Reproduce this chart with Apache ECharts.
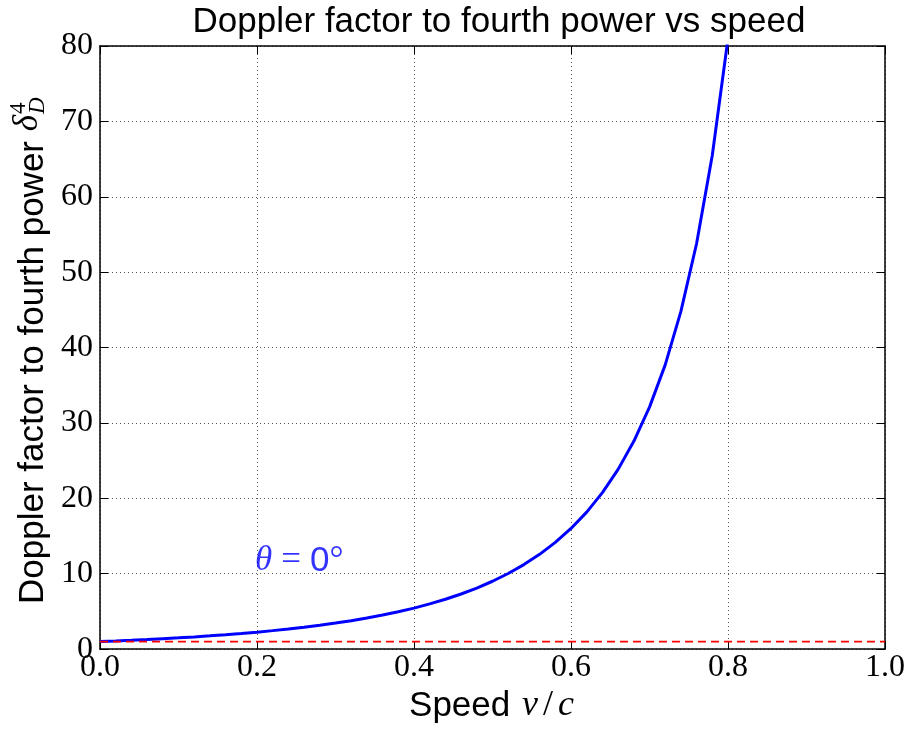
<!DOCTYPE html>
<html>
<head>
<meta charset="utf-8">
<script src="https://cdn.jsdelivr.net/npm/echarts@6/dist/echarts.min.js"></script>
<style>
  html, body { margin: 0; padding: 0; background: #fff; }
  #chart { width: 908px; height: 729px; }
</style>
</head>
<body>
<div id="chart"></div>
<script>
// Speed as a fraction of c
const speed = [0.00, 0.02, 0.04, 0.06, 0.08, 0.10, 0.12, 0.14, 0.16, 0.18, 0.20,
               0.22, 0.24, 0.26, 0.28, 0.30, 0.32, 0.34, 0.36, 0.38, 0.40,
               0.42, 0.44, 0.46, 0.48, 0.50, 0.52, 0.54, 0.56, 0.58, 0.60,
               0.62, 0.64, 0.66, 0.68, 0.70, 0.72, 0.74, 0.76, 0.78, 0.80];
// Doppler factor to the fourth power at theta = 0
const dopplerFourth = [1.00, 1.08, 1.17, 1.27, 1.38, 1.49, 1.62, 1.76, 1.91, 2.07, 2.25,
                       2.45, 2.66, 2.90, 3.16, 3.45, 3.77, 4.12, 4.52, 4.95, 5.44,
                       6.00, 6.61, 7.31, 8.10, 9.00, 10.03, 11.21, 12.57, 14.15, 16.00,
                       18.17, 20.75, 23.84, 27.56, 32.1, 37.7, 44.8, 53.8, 65.5, 81.0];
// Reference level (no boost)
const baselineX = [0.0, 1.0];
const baselineY = [1.0, 1.0];
// Axis ranges and tick steps
const xRange = [0.0, 1.0], xStep = 0.2;
const yRange = [0, 80], yStep = 10;
// Annotation anchor
const annotation = { x: 0.2, y: 10 };

const SANS = '"Liberation Sans", Helvetica, Arial, sans-serif';
const SERIF = '"Liberation Serif", "DejaVu Serif", serif';
const SANS_SIZE = 35;
const TICK_SIZE = 32;

const grid = { left: 100, right: 20, top: 46, bottom: 73 };

const ctx = document.createElement('canvas').getContext('2d');
function textWidth(str, font) { ctx.font = font; return ctx.measureText(str).width; }

const chart = echarts.init(document.getElementById('chart'), null, { renderer: 'canvas' });

const gridLine = { show: true, lineStyle: { color: '#555', width: 1, type: [1, 3] } };
const frameLine = { show: true, onZero: false, lineStyle: { color: '#000', width: 1.5 } };
const innerTick = { show: true, inside: true, length: 8, lineStyle: { color: '#000', width: 1 } };

function xAxisCfg(pos, main) {
  return {
    type: 'value', position: pos, min: xRange[0], max: xRange[1], interval: xStep,
    axisLine: frameLine, axisTick: innerTick,
    splitLine: main ? gridLine : { show: false },
    axisLabel: main ? {
      show: true, margin: 2, color: '#000', fontFamily: SERIF, fontSize: TICK_SIZE,
      formatter: v => v.toFixed(1)
    } : { show: false },
    name: main ? '{a|Speed }{b|v}{s|/}{b|c}' : '',
    nameLocation: 'middle', nameGap: 38,
    nameTextStyle: {
      rich: {
        a: { fontFamily: SANS, fontSize: SANS_SIZE, color: '#000' },
        b: { fontFamily: SERIF, fontStyle: 'italic', fontSize: 36, color: '#000', padding: [0, 2, 0, 2] },
        s: { fontFamily: SERIF, fontSize: 36, color: '#000', padding: [0, 3, 0, 3] }
      }
    }
  };
}
function yAxisCfg(pos, main) {
  return {
    type: 'value', position: pos, min: yRange[0], max: yRange[1], interval: yStep,
    axisLine: frameLine, axisTick: innerTick,
    splitLine: main ? gridLine : { show: false },
    axisLabel: main ? {
      show: true, margin: 7, color: '#000', fontFamily: SERIF, fontSize: TICK_SIZE
    } : { show: false }
  };
}

// Rotated y-axis title with the stacked super/subscript
const yTitleMain = 'Doppler factor to fourth power ';
const mainFont = SANS_SIZE + 'px ' + SANS;
const deltaFont = 'italic ' + SANS_SIZE + 'px ' + SERIF;
const scriptFont = 'italic 23px ' + SERIF;
const wMain = textWidth(yTitleMain, mainFont);
const wDelta = textWidth('δ', deltaFont);

chart.setOption({
  animation: false,
  backgroundColor: '#fff',
  title: {
    text: 'Doppler factor to fourth power vs speed',
    left: grid.left + (908 - grid.left - grid.right) / 2, textAlign: 'center', top: 0,
    textStyle: { fontFamily: SANS, fontSize: SANS_SIZE, fontWeight: 'normal', color: '#000' }
  },
  grid: grid,
  xAxis: [xAxisCfg('bottom', true), xAxisCfg('top', false)],
  yAxis: [yAxisCfg('left', true), yAxisCfg('right', false)],
  graphic: [{
    type: 'group', x: 51, y: 604, rotation: Math.PI / 2,
    children: [
      { type: 'text', x: 0, y: 0,
        style: { text: yTitleMain, font: mainFont, fill: '#000', textAlign: 'left', textVerticalAlign: 'bottom' } },
      { type: 'text', x: wMain, y: -6,
        style: { text: 'δ', font: deltaFont, fill: '#000', textAlign: 'left', textVerticalAlign: 'bottom' } },
      { type: 'text', x: wMain + wDelta + 1, y: -21,
        style: { text: '4', font: '23px ' + SERIF, fill: '#000', textAlign: 'left', textVerticalAlign: 'bottom' } },
      { type: 'text', x: wMain + wDelta + 1, y: -2,
        style: { text: 'D', font: scriptFont, fill: '#000', textAlign: 'left', textVerticalAlign: 'bottom' } }
    ]
  }],
  series: [
    {
      type: 'line', name: 'boost',
      data: speed.map((v, i) => [v, dopplerFourth[i]]),
      smooth: false, showSymbol: false, clip: true,
      lineStyle: { color: '#0000ff', width: 3 }
    },
    {
      type: 'line', name: 'unity',
      data: baselineX.map((v, i) => [v, baselineY[i]]),
      showSymbol: false, clip: true,
      lineStyle: { color: '#ff0000', width: 1.8, type: [8, 5] }
    },
    {
      type: 'scatter', name: 'angle',
      data: [[annotation.x, annotation.y]],
      symbolSize: 0, silent: true,
      label: {
        show: true, position: [0, 0], align: 'left', verticalAlign: 'bottom', offset: [-2, 5],
        formatter: '{t|θ}{e|=}{z|0}{d|°}',
        rich: {
          t: { fontFamily: SERIF, fontStyle: 'italic', fontSize: 35, color: '#0000ff' },
          e: { fontFamily: SERIF, fontSize: 35, color: '#0000ff', padding: [0, 9, 0, 9] },
          z: { fontFamily: SANS, fontSize: 35, color: '#0000ff' },
          d: { fontFamily: SERIF, fontSize: 35, color: '#0000ff' }
        }
      }
    }
  ]
});
</script>
</body>
</html>
